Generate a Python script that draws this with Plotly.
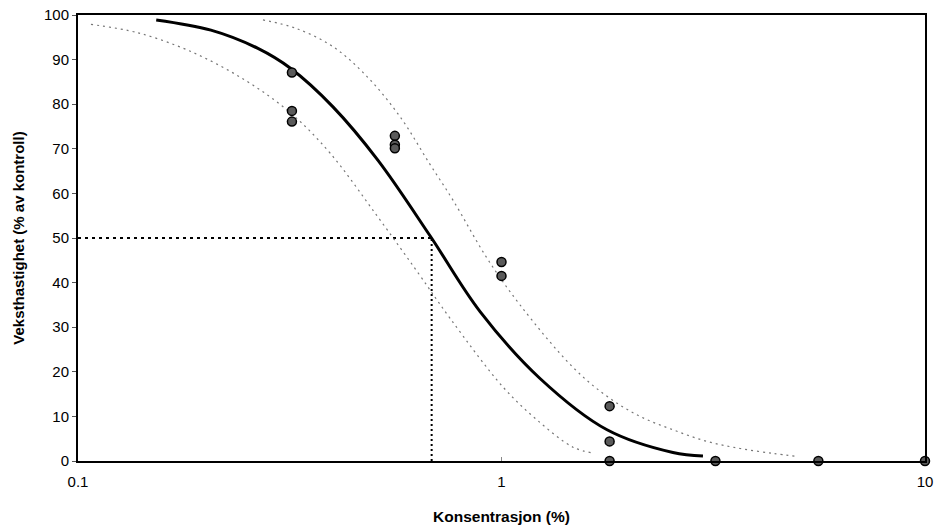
import plotly.graph_objects as go

# Observed data points
conc = [0.32, 0.32, 0.32, 0.56, 0.56, 0.56, 1.0, 1.0, 1.8, 1.8, 1.8, 3.2, 5.6, 10.0]
growth = [87.1, 78.5, 76.1, 72.9, 70.9, 70.1, 44.6, 41.5, 12.3, 4.4, 0.0, 0.0, 0.0, 0.0]

# Fitted curve
fit_x = [0.153, 0.206, 0.266, 0.318, 0.400, 0.511, 0.678, 0.890, 1.233, 1.775, 2.54, 2.99]
fit_y = [98.9, 96.6, 92.5, 88.0, 79.4, 67.4, 50.5, 33.5, 18.5, 7.0, 1.9, 1.1]

# Lower confidence curve
lower_x = [0.1073, 0.1386, 0.1848, 0.2480, 0.318, 0.394, 0.508, 0.632, 0.756, 1.008,
           1.213, 1.475, 1.644]
lower_y = [97.9, 96.0, 91.8, 85.4, 78.0, 69.0, 55.0, 42.5, 32.0, 16.6,
           9.2, 3.1, 1.8]

# Upper confidence curve
upper_x = [0.2734, 0.3272, 0.400, 0.4813, 0.576, 0.678, 0.768, 0.924, 1.106, 1.475,
           1.775, 2.124, 2.54, 3.055, 3.66, 4.38, 4.99]
upper_y = [98.9, 97.0, 92.9, 86.2, 77.2, 66.5, 58.5, 45.5, 35.0, 21.0,
           14.5, 10.0, 7.0, 4.4, 2.8, 1.7, 1.0]

# EC50 guide
ec50 = 0.684
half = 50

x_ticks = [0.1, 1, 10]
x_tick_labels = ["0.1", "1", "10"]
y_ticks = list(range(0, 101, 10))

fig = go.Figure()

fig.add_trace(go.Scatter(x=[0.1, ec50], y=[half, half], mode="lines",
                         line=dict(color="black", width=2, dash="3px,4px"),
                         hoverinfo="skip", showlegend=False))
fig.add_trace(go.Scatter(x=[ec50, ec50], y=[0, half], mode="lines",
                         line=dict(color="black", width=2, dash="2px,3px"),
                         hoverinfo="skip", showlegend=False))

fig.add_trace(go.Scatter(x=lower_x, y=lower_y, mode="lines", line_shape="spline",
                         line=dict(color="#777777", width=1.2, dash="2px,4px"),
                         showlegend=False))
fig.add_trace(go.Scatter(x=upper_x, y=upper_y, mode="lines", line_shape="spline",
                         line=dict(color="#777777", width=1.2, dash="2px,4px"),
                         showlegend=False))
fig.add_trace(go.Scatter(x=fit_x, y=fit_y, mode="lines", line_shape="spline",
                         line=dict(color="black", width=3),
                         showlegend=False))
fig.add_trace(go.Scatter(x=conc, y=growth, mode="markers", cliponaxis=False,
                         marker=dict(size=9, color="#5a5a5a",
                                     line=dict(color="black", width=1.5)),
                         showlegend=False))

fig.update_layout(
    width=934, height=527,
    margin=dict(l=78, r=9, t=15, b=66),
    paper_bgcolor="white", plot_bgcolor="white",
    font=dict(family="Liberation Sans, Arial, sans-serif", size=15, color="black"),
)
fig.update_xaxes(type="log", range=[-1, 1], tickvals=x_ticks, ticktext=x_tick_labels,
                 automargin=False,
                 showgrid=False, zeroline=False,
                 showline=True, linecolor="black", linewidth=2, mirror=True,
                 ticks="inside", ticklen=4, tickcolor="#888888",
                 ticklabelstandoff=6,
                 title=dict(text="<b>Konsentrasjon (%)</b>", font=dict(size=15.5), standoff=22),
                 tickfont=dict(size=15))
fig.update_yaxes(range=[0, 100], tickvals=y_ticks, showgrid=False, zeroline=False,
                 automargin=False,
                 showline=True, linecolor="black", linewidth=2, mirror=True,
                 ticks="outside", ticklen=4, tickcolor="#555555",
                 title=dict(text="<b>Veksthastighet (% av kontroll)</b>", font=dict(size=15), standoff=16),
                 tickfont=dict(size=15))

fig.write_html("out.html")
